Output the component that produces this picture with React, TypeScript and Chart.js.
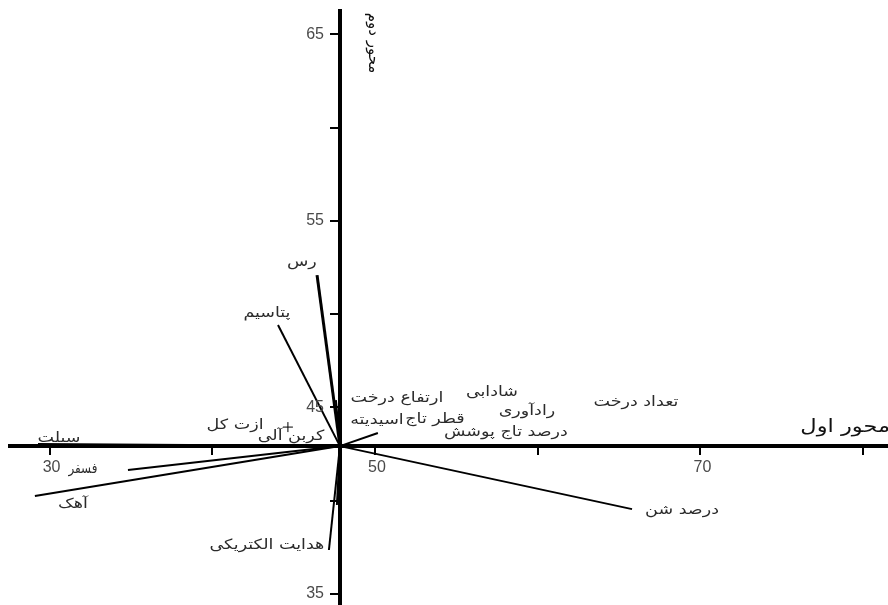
import React, { useEffect, useRef } from "react";
import { Chart, registerables } from "chart.js";

Chart.register(...registerables);

// Origin of the biplot (where the two axes cross)
const originX = 47.85;
const originY = 42.92;

// Axis ranges
const xMin = 27.57;
const xMax = 81.53;
const yMin = 34.4;
const yMax = 66.25;

// Labelled tick values
const xTickLabels = [30, 50, 70];
const yTickLabels = [35, 45, 55, 65];

// Vector end points
const vectorNames = [
  "رس",
  "پتاسیم",
  "سیلت",
  "فسفر",
  "آهک",
  "هدایت الکتریکی",
  "درصد شن",
  "اسیدیته",
  "ارتفاع درخت",
  "هدایت (2)",
];
const vectorEndX = [46.44, 44.04, 29.29, 34.82, 29.1, 47.17, 65.8, 50.18, 47.6, 47.66];
const vectorEndY = [52.09, 49.41, 43.03, 41.64, 40.24, 37.35, 39.54, 43.62, 45.39, 39.76];

// Variable labels
const labelTexts = [
  "رس",
  "پتاسیم",
  "سیلت",
  "فسفر",
  "آهک",
  "ازت کل",
  "کربن آلی",
  "هدایت الکتریکی",
  "درصد شن",
  "ارتفاع درخت",
  "قطر تاج",
  "اسیدیته",
  "شادابی",
  "رادآوری",
  "درصد تاج پوشش",
  "تعداد درخت",
];
const labelX = [45.51, 43.36, 30.58, 32.05, 31.44, 41.4, 44.84, 43.36, 68.87, 51.35, 53.69, 50.12, 57.19, 59.34, 58.05, 66.04];
const labelY = [52.79, 50.05, 43.35, 41.69, 39.81, 44.05, 43.46, 37.61, 39.49, 45.5, 44.37, 44.32, 45.82, 44.8, 43.67, 45.28];

// Marker "+"
const plusX = [44.65];
const plusY = [43.94];

const xAxisTitle = "محور اول";
const yAxisTitle = "محور دوم";

const ARABIC_FONT = '"DejaVu Sans", sans-serif';
const NUM_FONT = '"Liberation Sans", Arial, sans-serif';
const DEFAULT_STRETCH = 1.25;
const STRETCH_OVERRIDES: Record<string, number> = { "فسفر": 0.85 };

function stretchedText(ctx: CanvasRenderingContext2D, text: string, x: number, y: number, sx: number) {
  ctx.save();
  ctx.translate(x, y);
  ctx.scale(sx, 1);
  ctx.fillText(text, 0, 0);
  ctx.restore();
}

const labelPlugin = {
  id: "biplotLabels",
  afterDatasetsDraw(chart: any) {
    const { ctx, scales, chartArea } = chart;
    const xs = scales.x;
    const ys = scales.y;
    const ax = xs.getPixelForValue(originX);
    const ay = ys.getPixelForValue(originY);
    ctx.save();
    // tick labels
    ctx.fillStyle = "#4a4a4a";
    ctx.font = `16px ${NUM_FONT}`;
    ctx.textAlign = "right";
    ctx.textBaseline = "middle";
    yTickLabels.forEach((v) => {
      ctx.fillText(String(v), ax - 16, ys.getPixelForValue(v));
    });
    ctx.textAlign = "center";
    xTickLabels.forEach((v) => {
      ctx.fillText(String(v), xs.getPixelForValue(v) + 2, ay + 21);
    });

    // variable labels
    ctx.fillStyle = "#2b2b2b";
    ctx.textAlign = "center";
    ctx.direction = "rtl";
    ctx.font = `14px ${ARABIC_FONT}`;
    labelTexts.forEach((t, i) => {
      const sx = STRETCH_OVERRIDES[t] ?? DEFAULT_STRETCH;
      stretchedText(ctx, t, xs.getPixelForValue(labelX[i]), ys.getPixelForValue(labelY[i]), sx);
    });
    // axis titles
    ctx.font = `18px ${ARABIC_FONT}`;
    ctx.fillStyle = "#111";
    ctx.textAlign = "right";
    stretchedText(ctx, xAxisTitle, chartArea.right + 2, ay - 19, 1.25);
    ctx.translate(ax + 33, chartArea.top + 32);
    ctx.rotate(Math.PI / 2);
    ctx.textAlign = "center";
    ctx.font = `15px ${ARABIC_FONT}`;
    ctx.fillText(yAxisTitle, 0, 0);
    ctx.restore();
  },
};

export default function App() {
  const canvasRef = useRef<HTMLCanvasElement | null>(null);

  useEffect(() => {
    if (!canvasRef.current) return;
    const datasets: any[] = vectorNames.map((name, i) => ({
      label: name,
      data: [
        { x: originX, y: originY },
        { x: vectorEndX[i], y: vectorEndY[i] },
      ],
      showLine: true,
      borderColor: "#000",
      borderWidth: i === 0 ? 3 : 2,
      pointRadius: 0,
      fill: false,
    }));
    datasets.push({
      label: "+",
      data: plusX.map((x, i) => ({ x, y: plusY[i] })),
      showLine: false,
      pointStyle: "cross",
      pointRadius: 5,
      borderColor: "#000",
      borderWidth: 1,
    });

    const chart = new Chart(canvasRef.current, {
      type: "scatter",
      data: { datasets },
      options: {
        animation: false,
        responsive: false,
        layout: { autoPadding: false, padding: { left: 10, top: 11, right: 0, bottom: 0 } } as any,
        plugins: { legend: { display: false }, tooltip: { enabled: false } },
        scales: {
          x: {
            type: "linear",
            min: xMin,
            max: xMax,
            position: { y: originY } as any,
            grid: { drawOnChartArea: false, drawTicks: true, tickLength: 7, color: "#000", lineWidth: 2 },
            border: { display: true, color: "#000", width: 4 },
            ticks: { stepSize: 10, includeBounds: false, autoSkip: false, display: false },
          },
          y: {
            type: "linear",
            min: yMin,
            max: yMax,
            position: { x: originX } as any,
            grid: { drawOnChartArea: false, drawTicks: true, tickLength: 8, color: "#000", lineWidth: 2 },
            border: { display: true, color: "#000", width: 4 },
            ticks: { stepSize: 5, includeBounds: false, autoSkip: false, display: false },
          },
        },
      },
      plugins: [labelPlugin],
    });
    return () => chart.destroy();
  }, []);

  return (
    <div style={{ position: "fixed", left: 0, top: 0, width: 888, height: 605, background: "#fff" }}>
      <canvas ref={canvasRef} width={888} height={605} style={{ width: 888, height: 605 }} />
    </div>
  );
}
